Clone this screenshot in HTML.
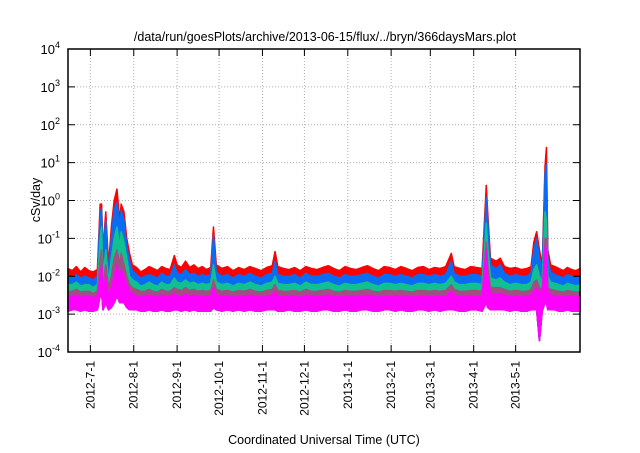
<!DOCTYPE html>
<html><head><meta charset="utf-8"><style>
body{margin:0;background:#fff;}
svg text{font-family:"Liberation Sans",sans-serif;fill:#000;}
</style></head><body>
<svg id="chart" width="640" height="448" xmlns="http://www.w3.org/2000/svg">
<rect width="640" height="448" fill="#fff"/>
<text x="325" y="41" font-size="12.5" text-anchor="middle">/data/run/goesPlots/archive/2013-06-15/flux/../bryn/366daysMars.plot</text>
<text transform="translate(40,200) rotate(-90)" font-size="12.5" text-anchor="middle">cSv/day</text>
<text x="324" y="444" font-size="12.5" text-anchor="middle">Coordinated Universal Time (UTC)</text>
<g id="grid"></g><g id="series"></g><g id="axes"></g>
</svg>
<script>
const yTickExps=[-4,-3,-2,-1,0,1,2,3,4];
const monthLabels=["2012-7-1","2012-8-1","2012-9-1","2012-10-1","2012-11-1","2012-12-1","2013-1-1","2013-2-1","2013-3-1","2013-4-1","2013-5-1"];
const monthDays=[16,47,78,108,139,169,200,231,259,290,320];
const days=[0,3,6,9,12,15,18,21,23,24,25,27,29,31,33,35,37,38,40,42,44,46,49,52,55,58,61,64,67,70,73,76,78,81,84,87,90,93,96,99,102,104,106,110,114,118,122,126,130,134,138,142,146,148,150,154,158,162,166,170,174,178,182,186,190,194,198,202,206,210,214,218,222,226,230,234,238,242,246,250,254,258,262,266,270,274,276,280,284,288,292,296,299,300,302,306,309,312,316,320,324,328,331,333,335,337,339,341,342,343,345,348,351,354,357,360,363,366];
const red=[.016,.014,.018,.013,.017,.014,.013,.015,.8,.8,.05,.5,.02,.2,1.0,2,.3,.8,.5,.1,.04,.02,.017,.013,.015,.018,.016,.014,.018,.016,.015,.035,.02,.017,.025,.017,.02,.016,.018,.015,.017,.2,.02,.016,.018,.014,.017,.015,.018,.016,.014,.017,.019,.045,.018,.016,.015,.017,.014,.018,.016,.015,.017,.019,.016,.014,.018,.016,.015,.017,.019,.016,.014,.018,.017,.015,.018,.016,.014,.017,.018,.015,.017,.016,.018,.04,.018,.016,.015,.018,.017,.016,2.5,.5,.03,.025,.03,.018,.016,.017,.015,.016,.018,.08,.15,.05,.02,8,25,.05,.02,.018,.016,.014,.017,.015,.014,.016];
const blue=[.010,.009,.011,.009,.010,.009,.008,.010,.5,.6,.03,.3,.012,.1,.6,.9,.2,.55,.3,.06,.025,.014,.011,.009,.010,.011,.010,.009,.012,.010,.010,.02,.012,.011,.015,.011,.012,.010,.011,.010,.011,.12,.013,.010,.011,.009,.011,.010,.012,.010,.009,.011,.012,.025,.011,.010,.010,.011,.009,.012,.010,.010,.011,.012,.010,.009,.011,.010,.010,.011,.012,.010,.009,.011,.011,.010,.011,.010,.009,.011,.011,.010,.011,.010,.011,.025,.012,.010,.010,.011,.011,.010,1.2,.3,.02,.016,.02,.012,.010,.011,.010,.010,.012,.05,.1,.03,.013,5,9,.03,.013,.011,.010,.009,.011,.010,.009,.010];
const teal=[.006,.006,.007,.0055,.006,.006,.005,.006,.1,.2,.01,.05,.007,.03,.1,.2,.06,.15,.08,.03,.01,.008,.007,.0055,.006,.007,.006,.0055,.007,.006,.006,.009,.007,.0065,.008,.0065,.007,.006,.0065,.006,.0065,.02,.007,.006,.0065,.0055,.0065,.006,.007,.006,.0055,.0065,.007,.01,.0065,.006,.006,.0065,.0055,.007,.006,.006,.0065,.007,.006,.0055,.0065,.006,.006,.0065,.007,.006,.0055,.0065,.0065,.006,.0065,.006,.0055,.0065,.0065,.006,.0065,.006,.0065,.01,.007,.006,.006,.0065,.0065,.006,.25,.06,.009,.008,.009,.007,.006,.0065,.006,.006,.007,.015,.02,.01,.007,.5,.3,.01,.007,.0065,.006,.0055,.0065,.006,.0055,.006];
const mauve=[.004,.004,.0045,.0038,.004,.004,.0035,.004,.03,.05,.005,.02,.005,.01,.03,.05,.02,.04,.02,.01,.006,.005,.0045,.004,.004,.0045,.004,.0038,.0045,.004,.004,.005,.0045,.0042,.005,.0042,.0045,.004,.0042,.004,.0042,.008,.0045,.004,.0042,.0038,.0042,.004,.0045,.004,.0038,.0042,.0045,.006,.0042,.004,.004,.0042,.0038,.0045,.004,.004,.0042,.0045,.004,.0038,.0042,.004,.004,.0042,.0045,.004,.0038,.0042,.0042,.004,.0042,.004,.0038,.0042,.0042,.004,.0042,.004,.0042,.006,.0045,.004,.004,.0042,.0042,.004,.08,.02,.005,.005,.005,.0045,.004,.0042,.004,.004,.0045,.007,.008,.005,.0045,.1,.1,.005,.0045,.0042,.004,.0038,.0042,.004,.0038,.004];
const magTop=[.003,.003,.0032,.0028,.003,.003,.0027,.003,.01,.02,.003,.01,.003,.005,.01,.02,.008,.015,.01,.006,.004,.0035,.003,.0028,.003,.0032,.003,.0028,.0032,.003,.003,.0035,.003,.003,.0033,.003,.0032,.003,.003,.003,.003,.005,.0032,.003,.003,.0028,.003,.003,.0032,.003,.0028,.003,.0032,.004,.003,.003,.003,.003,.0028,.0032,.003,.003,.003,.0032,.003,.0028,.003,.003,.003,.003,.0032,.003,.0028,.003,.003,.003,.003,.003,.0028,.003,.003,.003,.003,.003,.003,.004,.0032,.003,.003,.003,.003,.003,.05,.01,.0035,.0033,.0035,.0032,.003,.003,.003,.003,.0032,.004,.005,.004,.0032,.06,.05,.004,.0032,.003,.003,.0028,.003,.003,.0028,.003];
const magBot=[.0012,.0013,.0013,.0012,.0013,.0012,.0012,.0013,.003,.004,.0013,.002,.0013,.0015,.002,.003,.002,.002,.002,.0015,.0013,.0013,.0013,.0012,.0012,.0013,.0012,.0012,.0013,.0012,.0012,.0013,.0013,.0012,.0013,.0012,.0013,.0012,.0012,.0012,.0012,.0015,.0013,.0012,.0013,.0012,.0013,.0012,.0013,.0012,.0012,.0013,.0013,.0013,.0012,.0012,.0013,.0012,.0012,.0013,.0012,.0012,.0013,.0013,.0012,.0012,.0013,.0012,.0012,.0013,.0013,.0012,.0012,.0013,.0013,.0012,.0013,.0012,.0012,.0013,.0013,.0012,.0013,.0012,.0013,.0013,.0013,.0012,.0012,.0013,.0013,.0012,.002,.0015,.0013,.0013,.0013,.0013,.0012,.0013,.0012,.0012,.0013,.0013,.0013,.0002,.0012,.002,.002,.0013,.0013,.0013,.0012,.0012,.0013,.0012,.0012,.0012];
const L=68,R=580,T=49,B=352,NDAYS=366;
const x=d=>L+d*(R-L)/NDAYS;
const y=v=>B-(Math.log10(v)+4)*(B-T)/8;
const NS="http://www.w3.org/2000/svg";
function mk(tag,attrs,parent){const e=document.createElementNS(NS,tag);for(const k in attrs)e.setAttribute(k,attrs[k]);parent.appendChild(e);return e;}
const grid=document.getElementById('grid'),axes=document.getElementById('axes'),ser=document.getElementById('series');
yTickExps.forEach(ex=>{const yy=y(Math.pow(10,ex));
 if(ex>-4&&ex<4){const g=mk('line',{x1:L,x2:R,y1:yy,y2:yy,stroke:'#b0b0b0','stroke-dasharray':'1,2','stroke-width':1},grid);
 
 }
 mk('line',{x1:L,x2:L+7,y1:yy,y2:yy,stroke:'#000'},axes);
 mk('line',{x1:R-7,x2:R,y1:yy,y2:yy,stroke:'#000'},axes);
 const t=mk('text',{x:L-8,y:yy+5,'font-size':'13','text-anchor':'end'},axes);
 
 
 t.textContent='10';const s=mk('tspan',{dy:-6,'font-size':'9'},t);s.textContent=String(ex);
});
monthDays.forEach((d,i)=>{const xx=x(d);
 const g=mk('line',{x1:xx,x2:xx,y1:T,y2:B,stroke:'#b0b0b0','stroke-dasharray':'1,2'},grid);
 
 
 mk('line',{x1:xx,x2:xx,y1:B-7,y2:B,stroke:'#000'},axes);
 mk('line',{x1:xx,x2:xx,y1:T,y2:T+7,stroke:'#000'},axes);
 const t=mk('text',{transform:`translate(${xx+4},${B+9}) rotate(-90)`,'font-size':'12','text-anchor':'end'},axes);
 
 
 t.textContent=monthLabels[i];
});
const fr=mk('rect',{x:L,y:T,width:R-L,height:B-T,fill:'none',stroke:'#000','stroke-width':1.5},axes);


function area(top,col,name){
 let p='M'+x(days[0])+','+y(top[0]);
 for(let i=1;i<days.length;i++)p+='L'+x(days[i])+','+y(top[i]);
 for(let i=days.length-1;i>=0;i--)p+='L'+x(days[i])+','+y(magBot[i]);
 const e=mk('path',{d:p+'Z',fill:col,stroke:col,'stroke-width':1.5,'stroke-linejoin':'round'},ser);
 
 
}
area(red,'#ff0000','series-red');
area(blue,'#0a6cf0','series-blue');
area(teal,'#10c090','series-teal');
area(mauve,'#a05080','series-mauve');
area(magTop,'#ff00ff','series-magenta');
</script>
</body></html>
